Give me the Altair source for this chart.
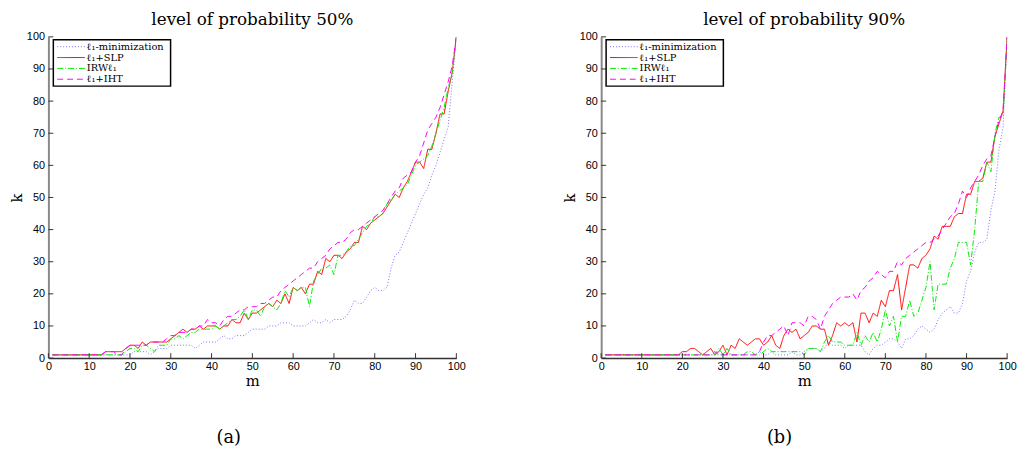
import altair as alt
import pandas as pd

m = list(range(1, 101))
ticks = [0, 10, 20, 30, 40, 50, 60, 70, 80, 90, 100]

series_names = ["ℓ₁-minimization", "ℓ₁+SLP", "IRWℓ₁", "ℓ₁+IHT"]
series_colors = ["#7373ff", "#ff0000", "#00ee00", "#ff00ff"]
series_dash = [[1, 2], [1, 0], [6, 2, 1, 2], [6, 4]]

# ---- panel (a): level of probability 50% ----
a_l1 = ([1] * 20 + [2, 2, 2, 2, 1, 2, 3, 3, 3, 4] + [4, 4, 4, 4, 4, 3, 4, 5, 5, 5]
        + [5, 6, 7, 6, 6, 7, 7, 7, 8, 9] + [9, 9, 9, 10, 10, 10, 11, 11, 11, 10]
        + [10, 10, 10, 11, 12, 11, 11, 12, 11, 12] + [12, 12, 13, 15, 18, 17, 17, 19, 21, 22]
        + [21, 21, 22, 28, 32, 33, 36, 39, 42, 45] + [48, 51, 53, 57, 60, 64, 68, 72, 86, 100])
a_slp = ([1] * 13 + [2] * 5 + [3, 4] + [4, 3, 5, 4, 5, 5, 5, 5, 5, 6]
         + [7, 8, 9, 8, 9, 9, 10, 9, 10, 10] + [10, 9, 10, 10, 12, 11, 11, 14, 12, 14]
         + [14, 15, 16, 17, 16, 18, 17, 20, 17, 22] + [21, 22, 20, 23, 23, 27, 26, 31, 30, 32]
         + [32, 31, 33, 34, 36, 36, 41, 40, 42, 43] + [44, 45, 47, 49, 51, 50, 53, 55, 58, 61]
         + [61, 59, 65, 65, 70, 76, 76, 83, 89, 100])
a_irw = ([1] * 18 + [2, 3] + [3, 2, 4, 4, 3, 2, 4, 4, 4, 6]
         + [6, 7, 6, 7, 8, 8, 9, 9, 9, 9] + [10, 9, 10, 11, 12, 12, 13, 15, 12, 15]
         + [15, 13, 16, 17, 16, 15, 17, 21, 19, 22] + [21, 22, 22, 16, 24, 26, 28, 28, 29, 26]
         + [32, 32, 33, 35, 35, 37, 39, 41, 42, 44] + [44, 45, 48, 49, 51, 52, 53, 54, 57, 60]
         + [61, 62, 63, 66, 70, 74, 78, 84, 89, 100])
a_iht = ([1] * 13 + [2, 2, 2] + [1, 1] + [3, 4] + [4, 4, 4, 4, 5, 5, 5, 5, 6, 7]
         + [7, 8, 8, 8, 9, 9, 10, 10, 12, 11] + [11, 10, 12, 13, 13, 14, 15, 15, 16, 16]
         + [16, 17, 17, 18, 19, 19, 21, 22, 23, 24] + [25, 26, 27, 28, 28, 30, 31, 32, 34, 35]
         + [36, 36, 37, 39, 40, 40, 41, 42, 43, 44] + [45, 46, 48, 50, 52, 53, 56, 57, 58, 61]
         + [63, 67, 71, 73, 75, 78, 82, 86, 91, 100])

# ---- panel (b): level of probability 90% ----
b_l1 = ([1] * 38 + [2, 1, 1, 2, 1, 1, 1, 1, 2, 1, 1, 2]
        + [3, 3, 3, 2, 3, 5, 4, 4, 4, 3] + [4, 4, 4, 4, 2, 1, 3, 4, 4, 5]
        + [6, 6, 5, 3, 6, 6, 7, 9, 10, 9] + [8, 9, 12, 14, 15, 16, 14, 14, 17, 24]
        + [27, 33, 36, 36, 37, 46, 52, 65, 72, 100])
b_slp = ([1] * 19 + [2] + [2, 3, 3, 2, 1, 2, 3, 1, 2, 4] + [1, 4, 3, 6, 5, 4, 5, 6, 6, 4]
         + [5, 7, 4, 3, 7, 9, 8, 9, 6, 7] + [8, 10, 10, 9, 9, 4, 7, 11, 10, 11]
         + [10, 11, 5, 14, 14, 11, 14, 13, 18, 16] + [21, 21, 26, 15, 22, 29, 29, 28, 31, 32]
         + [34, 38, 37, 41, 41, 41, 44, 45, 45, 51] + [51, 55, 55, 56, 61, 61, 69, 73, 77, 100])
b_irw = ([1] * 28 + [3, 1] + [3, 1, 1, 1, 1, 2, 2, 1, 1, 2] + [3, 2, 2, 2, 2, 2, 2, 2, 2, 1]
         + [3, 3, 3, 2, 5, 7, 5, 5, 5, 4] + [4, 4, 8, 4, 7, 5, 8, 5, 9, 15]
         + [10, 13, 5, 13, 13, 18, 13, 14, 18, 22] + [30, 15, 23, 23, 23, 28, 31, 36, 36, 36]
         + [29, 40, 55, 55, 61, 58, 70, 75, 75, 100])
b_iht = ([1] * 27 + [2] + [1] * 10 + [2, 5] + [7, 7, 8, 9, 10, 7, 11, 11, 11, 10]
         + [13, 13, 12, 9, 13, 15, 17, 18, 19, 19] + [19, 20, 18, 21, 22, 24, 25, 27, 26, 25]
         + [27, 27, 30, 29, 31, 32, 33, 34, 35, 36] + [36, 37, 38, 40, 42, 44, 45, 48, 52, 50]
         + [53, 55, 57, 60, 62, 63, 69, 74, 77, 100])

for arr in (a_l1, a_slp, a_irw, a_iht, b_l1, b_slp, b_irw, b_iht):
    assert len(arr) == 100, len(arr)

W_A, W_B, H = 414, 412, 326
SERIF = "DejaVu Serif"
SANS = "Liberation Sans"
legend_rows = [10, 21, 32, 43]


def panel(vals, title, caption, width, cap_x):
    df = pd.DataFrame({
        "m": m * 4,
        "k": [v for arr in vals for v in arr],
        "s": [n for n in series_names for _ in m],
    })
    xs = alt.Scale(domain=[0, 100], nice=False)
    ys = alt.Scale(domain=[0, 100], nice=False)
    x_axis = alt.Axis(values=ticks, tickCount=11, title="m", labelFont=SANS, labelFontSize=11,
                      labelPadding=3, tickSize=0, grid=False, domainColor="#333333",
                      domainWidth=1.5, titleFont=SERIF, titleFontSize=15,
                      titleFontWeight="normal", titlePadding=2, labelFlush=False,
                      labelOverlap=False, labelColor="black", titleColor="black")
    y_axis = alt.Axis(values=ticks, tickCount=11, title="k", labelFont=SANS, labelFontSize=11,
                      labelPadding=4, tickSize=0, grid=False, domainColor="#888888",
                      domainWidth=2, titleFont=SERIF, titleFontSize=15,
                      titleFontWeight="normal", titlePadding=2, labelFlush=False,
                      labelOverlap=False, labelColor="black", titleColor="black")
    lines = alt.Chart(df).mark_line(strokeWidth=1, clip=True).encode(
        x=alt.X("m:Q", scale=xs, axis=x_axis),
        y=alt.Y("k:Q", scale=ys, axis=y_axis),
        color=alt.Color("s:N", scale=alt.Scale(domain=series_names, range=series_colors), legend=None),
        strokeDash=alt.StrokeDash("s:N", scale=alt.Scale(domain=series_names, range=series_dash), legend=None),
    )
    xt = alt.Chart(pd.DataFrame({"m": ticks})).mark_rule(color="#333333", strokeWidth=1).encode(
        x=alt.X("m:Q", scale=xs, axis=x_axis), y=alt.value(H), y2=alt.value(H - 5))
    yt = alt.Chart(pd.DataFrame({"k": ticks})).mark_rule(color="#333333", strokeWidth=1).encode(
        y=alt.Y("k:Q", scale=ys, axis=y_axis), x=alt.value(0), x2=alt.value(5))
    one = pd.DataFrame({"c": [caption]})
    box = alt.Chart(one).mark_rect(fill="white", stroke="black", strokeWidth=1.5).encode(
        x=alt.value(5), x2=alt.value(124), y=alt.value(3), y2=alt.value(50))
    layers = [lines, xt, yt, box]
    for i, name in enumerate(series_names):
        layers.append(alt.Chart(one).mark_rule(color=series_colors[i], strokeDash=series_dash[i],
                                               strokeWidth=1).encode(
            x=alt.value(9), x2=alt.value(37), y=alt.value(legend_rows[i])))
        layers.append(alt.Chart(one).mark_text(align="left", baseline="middle", font=SERIF,
                                               fontSize=10, color="black").encode(
            x=alt.value(39), y=alt.value(legend_rows[i]), text=alt.value(name)))
    layers.append(alt.Chart(one).mark_text(font=SERIF, fontSize=18, color="black").encode(
        x=alt.value(cap_x), y=alt.value(407), text="c:N"))
    return alt.layer(*layers).properties(
        width=width, height=H,
        title=alt.TitleParams(title, font=SERIF, fontSize=17, fontWeight="normal",
                              offset=2, anchor="middle", color="black"))


left = panel([a_l1, a_slp, a_irw, a_iht], "level of probability 50%", "(a)", W_A, 183)
right = panel([b_l1, b_slp, b_irw, b_iht], "level of probability 90%", "(b)", W_B, 181)

chart = alt.hconcat(left, right, spacing=147, bounds="flush").properties(
    padding={"left": 1, "top": 0, "right": 0, "bottom": 0},
).configure_view(stroke=None)

chart.save("out.html", embed_options={"renderer": "svg", "actions": False})
